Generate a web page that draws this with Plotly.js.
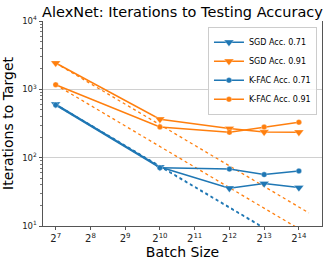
<!DOCTYPE html>
<html>
<head>
<meta charset="utf-8">
<script src="https://cdn.plot.ly/plotly-3.0.1.min.js"></script>
<style>html,body{margin:0;padding:0;background:#fff;}#chart{width:332px;height:263px;}</style>
</head>
<body>
<div id="chart"></div>
<script>
// Data
const batchSizes = [128, 1024, 4096, 8192, 16384];
const sgd071 = [605, 73, 35.7, 41.8, 36.5];
const sgd091 = [2427, 365, 267, 238, 236];
const kfac071 = [590, 71, 68, 56.5, 63.8];
const kfac091 = [1166, 281, 235, 281, 330];
const idealEnd = 20000; // extent of ideal-scaling reference lines
const xTickExp = [7, 8, 9, 10, 11, 12, 13, 14];
const yTickExp = [1, 2, 3, 4];

const blue = '#1f77b4', orange = '#ff7f0e';
const font = 'DejaVu Sans, sans-serif';

function ideal(series) {
  const x0 = batchSizes[0];
  const xs = [x0, idealEnd];
  return {x: xs, y: xs.map(x => series[0] * x0 / x)};
}

function series(name, ys, color, symbol, size) {
  return {
    x: batchSizes, y: ys, name: name, mode: 'lines+markers', type: 'scatter',
    line: {color: color, width: 1.5},
    marker: {symbol: symbol, size: size, color: color, line: {color: 'rgba(255,255,255,0.6)', width: 0.5}}
  };
}
function dotted(ys, color) {
  const d = ideal(ys);
  return {x: d.x, y: d.y, mode: 'lines', type: 'scatter', showlegend: false, hoverinfo: 'skip',
    line: {color: color, width: 1.3, dash: 'dot'}};
}

const data = [
  dotted(sgd071, blue), dotted(kfac071, blue),
  dotted(sgd091, orange), dotted(kfac091, orange),
  series('SGD Acc. 0.71', sgd071, blue, 'triangle-down', 8.5),
  series('SGD Acc. 0.91', sgd091, orange, 'triangle-down', 8.5),
  series('K-FAC Acc. 0.71', kfac071, blue, 'circle', 5.5),
  series('K-FAC Acc. 0.91', kfac091, orange, 'circle', 5.5)
];

const minorVals = [];
for (let e = 1; e < 4; e++) for (let k = 2; k < 10; k++) minorVals.push(k * Math.pow(10, e));

const layout = {
  width: 332, height: 263,
  margin: {l: 43, r: 10, t: 21, b: 37},
  paper_bgcolor: '#fff', plot_bgcolor: '#fff',
  font: {family: font, color: '#000'},
  title: {text: 'AlexNet: Iterations to Testing Accuracy', font: {size: 14.5, family: font, color: '#000'},
          x: 0.5, xref: 'paper', y: 0.955, yanchor: 'middle'},
  xaxis: {
    type: 'log',
    range: [Math.log10(Math.pow(2, 6.635)), Math.log10(Math.pow(2, 14.665))],
    tickmode: 'array',
    tickvals: xTickExp.map(e => Math.pow(2, e)),
    ticktext: xTickExp.map(e => '2<sup>' + e + '</sup>'),
    tickfont: {size: 10, family: font, color: '#222'},
    ticks: 'outside', ticklen: 3, tickcolor: '#555', tickwidth: 1,
    showline: true, linecolor: '#555', linewidth: 1, mirror: false,
    showgrid: false, zeroline: false,
    title: {text: 'Batch Size', font: {size: 14, family: font, color: '#000'}, standoff: 3}
  },
  yaxis: {
    type: 'log',
    range: [1, 4],
    tickmode: 'array',
    tickvals: yTickExp.map(e => Math.pow(10, e)),
    ticktext: yTickExp.map(e => '10<sup>' + e + '</sup>'),
    tickfont: {size: 8.5, family: font, color: '#222'},
    ticks: 'outside', ticklen: 3.5, tickcolor: '#555', tickwidth: 1,
    minor: {tickmode: 'array', tickvals: minorVals, ticks: 'outside', ticklen: 2, tickcolor: '#555', tickwidth: 0.8, showgrid: false},
    showline: true, linecolor: '#555', linewidth: 1, mirror: true,
    showgrid: true, gridcolor: '#d0d0d0', gridwidth: 1, zeroline: false,
    title: {text: 'Iterations to Target', font: {size: 14, family: font, color: '#000'}, standoff: 5}
  },
  showlegend: true,
  legend: {
    x: 0.982, xanchor: 'right', y: 0.972, yanchor: 'top',
    bgcolor: 'rgba(255,255,255,0.8)', bordercolor: '#ccc', borderwidth: 1,
    font: {size: 8, family: font, color: '#000'},
    tracegroupgap: 0, itemwidth: 30
  }
};

Plotly.newPlot('chart', data, layout, {staticPlot: true, displayModeBar: false});
</script>
</body>
</html>
